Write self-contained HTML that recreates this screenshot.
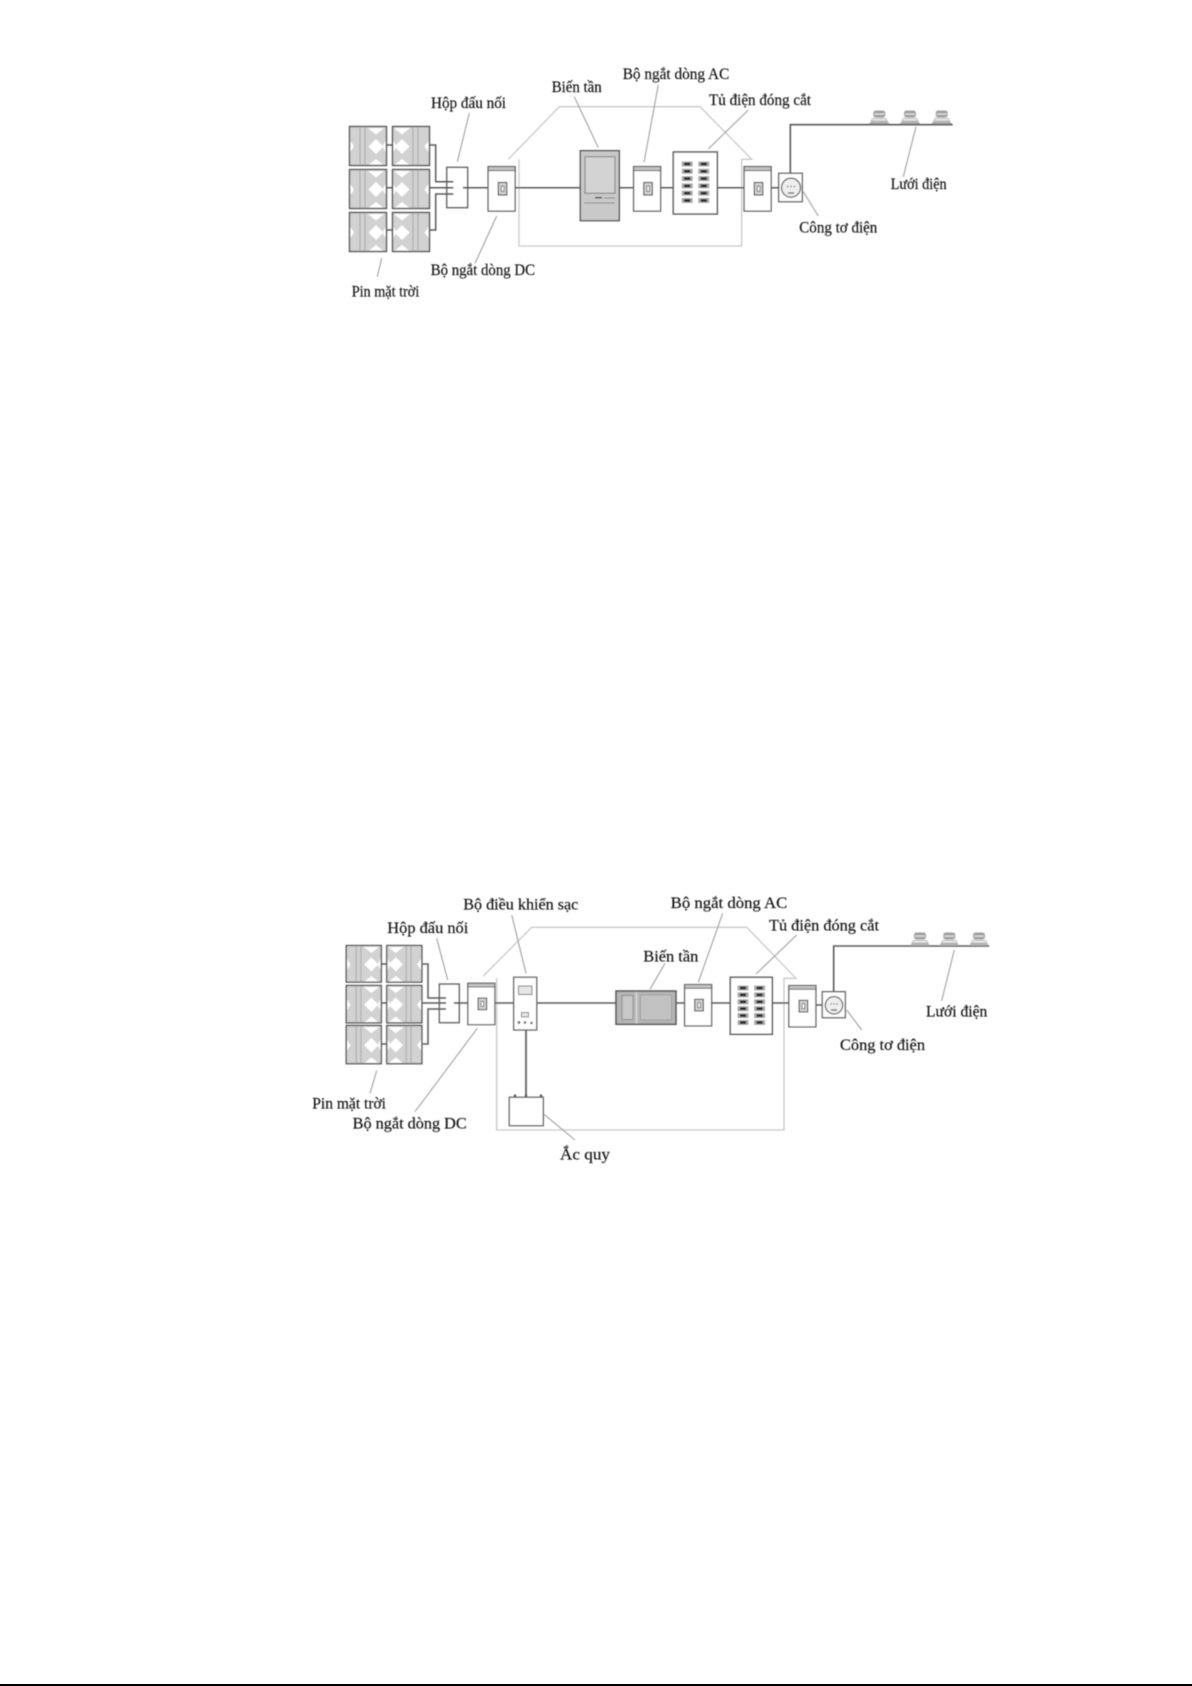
<!DOCTYPE html>
<html><head><meta charset="utf-8"><style>
html,body{margin:0;padding:0;background:#fff;width:1192px;height:1686px;overflow:hidden}
svg{display:block}
text{font-family:"Liberation Serif","Noto Serif CJK SC",serif;font-size:15.5px;fill:#111;stroke:#111;stroke-width:0.15px}
.h{fill:none;stroke:#c9c9c9;stroke-width:1.3}
.l{fill:none;stroke:#a0a0a0;stroke-width:1.1}
.w{fill:none;stroke:#5a5a5a;stroke-width:1.5}
.b{fill:#fff;stroke:#5c5c5c;stroke-width:1.3}
</style></head><body>
<svg width="1192" height="1686" viewBox="0 0 1192 1686" xmlns="http://www.w3.org/2000/svg">
<defs>
<filter id="s" x="-2%" y="-2%" width="104%" height="104%"><feGaussianBlur stdDeviation="0.4"/></filter>
<g id="pL">
<rect x="0.5" y="0.5" width="37" height="39" fill="#d2d2d2" stroke="#555" stroke-width="1.4"/>
<path d="M11 1V39M16 1V39" stroke="#a8a8a8" stroke-width="1" fill="none"/>
<path d="M27 13L34.500 20.500L27 28L19.500 20.500Z M19 2H35L27 8.500Z M20 38.500H34L27 33Z M1.500 15L5 20.500L1.500 26Z M36.500 15L33.500 20.500L36.500 26Z" fill="#fff"/>
</g>
<g id="pR">
<rect x="0.5" y="0.5" width="37" height="39" fill="#d2d2d2" stroke="#555" stroke-width="1.4"/>
<path d="M21 1V39M26 1V39" stroke="#a8a8a8" stroke-width="1" fill="none"/>
<path d="M10 13L17.500 20.500L10 28L2.500 20.500Z M2 2H18L10 8.500Z M3 38.500H17L10 33Z M1.500 15L4.500 20.500L1.500 26Z M36.500 15L32.500 20.500L36.500 26Z" fill="#fff"/>
</g>
<g id="brk">
<rect x="0.600" y="0.600" width="27" height="44.500" fill="#fff" stroke="#5c5c5c" stroke-width="1.300"/>
<rect x="0.600" y="0.600" width="27" height="4" fill="#c4c4c4" stroke="#5c5c5c" stroke-width="1"/>
<rect x="10.800" y="16.500" width="8.500" height="12.500" fill="#d4d4d4" stroke="#555" stroke-width="1.200"/>
<rect x="13.800" y="20" width="2.600" height="5.500" fill="#fff" stroke="#555" stroke-width="0.800"/>
</g>
<g id="cab">
<g fill="#a8a8a8"><rect x="0" y="0" width="11" height="5"/><rect x="16.600" y="0" width="11" height="5"/></g>
<g fill="#222"><rect x="2.500" y="1.200" width="6" height="2.600"/><rect x="19.100" y="1.200" width="6" height="2.600"/></g>
</g>
<g id="ins">
<path d="M-10 14H10" stroke="#777" stroke-width="1.400"/>
<path d="M-9.500 13.500L-7 8H7L9.500 13.500Z" fill="#b5b5b5"/>
<rect x="-7" y="9" width="14" height="1.500" fill="#eee"/>
<rect x="-6" y="0.500" width="12" height="7" rx="2.500" fill="#a0a0a0"/>
<rect x="-5" y="3.500" width="10" height="1.200" fill="#e8e8e8"/>
</g>
</defs>

<g filter="url(#s)">
<!-- Diagram 1 -->
<path class="h" d="M508.300 159.300L559.300 106.700H700L751.700 159.300H741.700V246H519V159.300"/>
<path class="w" d="M386.700 145H392.300M386.700 187.700H392.300M386.700 230H392.300"/>
<use href="#pL" x="349" y="126"/><use href="#pR" x="392" y="126"/>
<use href="#pL" x="349" y="169"/><use href="#pR" x="392" y="169"/>
<use href="#pL" x="349" y="212"/><use href="#pR" x="392" y="212"/>
<path class="w" d="M430 145H435.700V181.700H453.300M430 187.700H453.300M430 230H435.700V194H453.300"/>
<rect x="446.700" y="167.300" width="21" height="40.400" fill="none" stroke="#5c5c5c" stroke-width="1.300"/>
<path class="w" d="M463 187.700H488M515 187.700H581M619 187.700H633M660.700 187.700H673.500M717 187.700H743.500M771 187.700H779"/>
<use href="#brk" x="487.500" y="166"/>
<rect x="580.300" y="150.700" width="39" height="70" fill="#c9c9c9" stroke="#555" stroke-width="1.400"/>
<rect x="585" y="156.700" width="30" height="36.600" fill="#d3d3d3" stroke="#8c8c8c" stroke-width="1.200"/>
<path d="M595 197.700H602" stroke="#555" stroke-width="1.600"/><path d="M604 198H615M584 203H615" stroke="#8c8c8c" stroke-width="1"/>
<use href="#brk" x="633" y="166"/>
<rect x="673.300" y="152" width="44" height="62" fill="#fff" stroke="#5a5a5a" stroke-width="1.500"/>
<use href="#cab" x="681.700" y="161.500"/><use href="#cab" x="681.700" y="168.800"/><use href="#cab" x="681.700" y="176.100"/><use href="#cab" x="681.700" y="183.400"/><use href="#cab" x="681.700" y="190.700"/><use href="#cab" x="681.700" y="198"/>
<use href="#brk" x="743.500" y="166"/>
<rect class="b" x="778.700" y="173.300" width="23.600" height="28.400"/>
<circle cx="791" cy="187.700" r="9.500" fill="#eee" stroke="#666" stroke-width="1.300"/>
<path d="M787 186.500h1.300M790.400 186.500h1.300M793.800 186.500h1.300M788 193h6" stroke="#555" stroke-width="1.200" fill="none"/>
<path class="w" d="M790.300 173V124.700H952.700" style="stroke-width:1.600"/>
<use href="#ins" x="879.300" y="110"/><use href="#ins" x="910" y="110"/><use href="#ins" x="941.700" y="110"/>
<path class="l" d="M469.300 113.300L457.300 161.700M381.700 258.300L377.300 276.700M496.700 216L475 263.300M574.300 96.700L598.300 147.700M658.300 85L644 162.300M748.300 110L708.300 149M916 126.700L903.300 176.700M803.300 191.700L818.300 216"/>
<text x="431" y="108" textLength="75" lengthAdjust="spacingAndGlyphs">Hộp đấu nối</text>
<text x="551.700" y="92" textLength="50" lengthAdjust="spacingAndGlyphs">Biến tần</text>
<text x="622.700" y="79" textLength="106.600" lengthAdjust="spacingAndGlyphs">Bộ ngắt dòng AC</text>
<text x="709" y="105" textLength="102" lengthAdjust="spacingAndGlyphs">Tủ điện đóng cắt</text>
<text x="890.700" y="189" textLength="56" lengthAdjust="spacingAndGlyphs">Lưới điện</text>
<text x="799.300" y="232.700" textLength="78" lengthAdjust="spacingAndGlyphs">Công tơ điện</text>
<text x="430.700" y="275" textLength="104.300" lengthAdjust="spacingAndGlyphs">Bộ ngắt dòng DC</text>
<text x="351.700" y="296.700" textLength="67.600" lengthAdjust="spacingAndGlyphs">Pin mặt trời</text>

<!-- Diagram 2 -->
<path class="h" d="M483.300 976L531.700 927.300H746.700L796 978.300H784V1130H496.700V978"/>
<path class="w" d="M381.700 964H386.300M381.700 1003H386.300M381.700 1044H386.300"/>
<g transform="translate(345.700 945) scale(0.95 0.94)"><use href="#pL"/></g>
<g transform="translate(386.300 945) scale(0.95 0.94)"><use href="#pR"/></g>
<g transform="translate(345.700 985) scale(0.95 0.96)"><use href="#pL"/></g>
<g transform="translate(386.300 985) scale(0.95 0.96)"><use href="#pR"/></g>
<g transform="translate(345.700 1025) scale(0.95 0.98)"><use href="#pL"/></g>
<g transform="translate(386.300 1025) scale(0.95 0.98)"><use href="#pR"/></g>
<path class="w" d="M422.700 964H428V998H446M422.700 1003H446M422.700 1044H428V1009H446"/>
<rect x="439.300" y="984" width="20" height="38.700" fill="none" stroke="#5c5c5c" stroke-width="1.300"/>
<path class="w" d="M454 1003H467.500M494.700 1003H514M536.700 1003H616M676 1003H684M711 1003H730.500M772 1003H788.500M815.700 1005H822.500"/>
<g transform="translate(467.300 982.700) scale(1 0.93)"><use href="#brk"/></g>
<rect class="b" x="513.700" y="977.300" width="23" height="52.700"/>
<rect x="518.500" y="986" width="13.500" height="8.500" fill="#e6e6e6" stroke="#777" stroke-width="1"/>
<rect x="521.500" y="1012.500" width="7" height="4.500" fill="#e6e6e6" stroke="#777" stroke-width="0.900"/>
<circle cx="519" cy="1022.500" r="1.500" fill="#777"/><circle cx="525" cy="1022.500" r="1.500" fill="#888"/><circle cx="531.500" cy="1023" r="1.200" fill="#555"/>
<path class="w" d="M526 1030V1097.300" style="stroke-width:1.700"/>
<rect class="b" x="509.300" y="1097.300" width="34" height="28.400"/>
<path d="M515 1097V1094.500M541 1097V1094.500M526 1097V1094.500" stroke="#555" stroke-width="2.200"/>
<rect x="616" y="991" width="60" height="33.300" fill="#b5b5b5" stroke="#555" stroke-width="1.500"/>
<rect x="622" y="995.500" width="11" height="24" fill="#c8c8c8" stroke="#8c8c8c" stroke-width="1"/>
<rect x="640.500" y="995" width="31" height="25" fill="#c2c2c2" stroke="#999" stroke-width="0.800"/>
<path d="M636.500 992V1023.500" stroke="#d8d8d8" stroke-width="1.500"/>
<g transform="translate(684 984) scale(1 0.93)"><use href="#brk"/></g>
<rect x="730.300" y="977.300" width="42" height="57" fill="#fff" stroke="#5a5a5a" stroke-width="1.500"/>
<use href="#cab" x="737.500" y="985.500"/><use href="#cab" x="737.500" y="992.400"/><use href="#cab" x="737.500" y="999.300"/><use href="#cab" x="737.500" y="1006.200"/><use href="#cab" x="737.500" y="1013.100"/><use href="#cab" x="737.500" y="1020"/>
<g transform="translate(788.300 985) scale(1 0.93)"><use href="#brk"/></g>
<rect class="b" x="822.300" y="991.700" width="23" height="26"/>
<circle cx="834" cy="1005.300" r="8.700" fill="#eee" stroke="#666" stroke-width="1.300"/>
<path d="M830.500 1004h1.200M833.400 1004h1.200M836.300 1004h1.200M831 1010h6" stroke="#555" stroke-width="1.200" fill="none"/>
<path class="w" d="M833.700 992V946H989.300" style="stroke-width:1.600"/>
<use href="#ins" x="920" y="932"/><use href="#ins" x="949.300" y="932"/><use href="#ins" x="979" y="932"/>
<path class="l" d="M436.700 938.300L447.700 980M511.700 915L526 973.300M376.700 1070.700L370 1093.300M477.300 1028.300L415 1111.700M544 1114.300L575 1140M665 963.300L650 989.300M722.700 913.300L698.300 982.300M796.700 935L756 974M954.300 950L941.700 1000.700M846.700 1010L861.700 1030"/>
<text x="463.300" y="909.300" textLength="115" lengthAdjust="spacingAndGlyphs">Bộ điều khiển sạc</text>
<text x="387.300" y="933" textLength="81" lengthAdjust="spacingAndGlyphs">Hộp đấu nối</text>
<text x="670.700" y="908" textLength="116.600" lengthAdjust="spacingAndGlyphs">Bộ ngắt dòng AC</text>
<text x="769" y="930.700" textLength="110" lengthAdjust="spacingAndGlyphs">Tủ điện đóng cắt</text>
<text x="643.300" y="961.700" textLength="55" lengthAdjust="spacingAndGlyphs">Biến tần</text>
<text x="926" y="1016.700" textLength="61.300" lengthAdjust="spacingAndGlyphs">Lưới điện</text>
<text x="840" y="1050" textLength="85" lengthAdjust="spacingAndGlyphs">Công tơ điện</text>
<text x="312.300" y="1108.300" textLength="73.700" lengthAdjust="spacingAndGlyphs">Pin mặt trời</text>
<text x="352.700" y="1128.300" textLength="114" lengthAdjust="spacingAndGlyphs">Bộ ngắt dòng DC</text>
<text x="560" y="1159.300" textLength="50" lengthAdjust="spacingAndGlyphs">Ắc quy</text>
</g>
<rect x="0" y="1684" width="1192" height="2" fill="#000"/>
</svg>
</body></html>
